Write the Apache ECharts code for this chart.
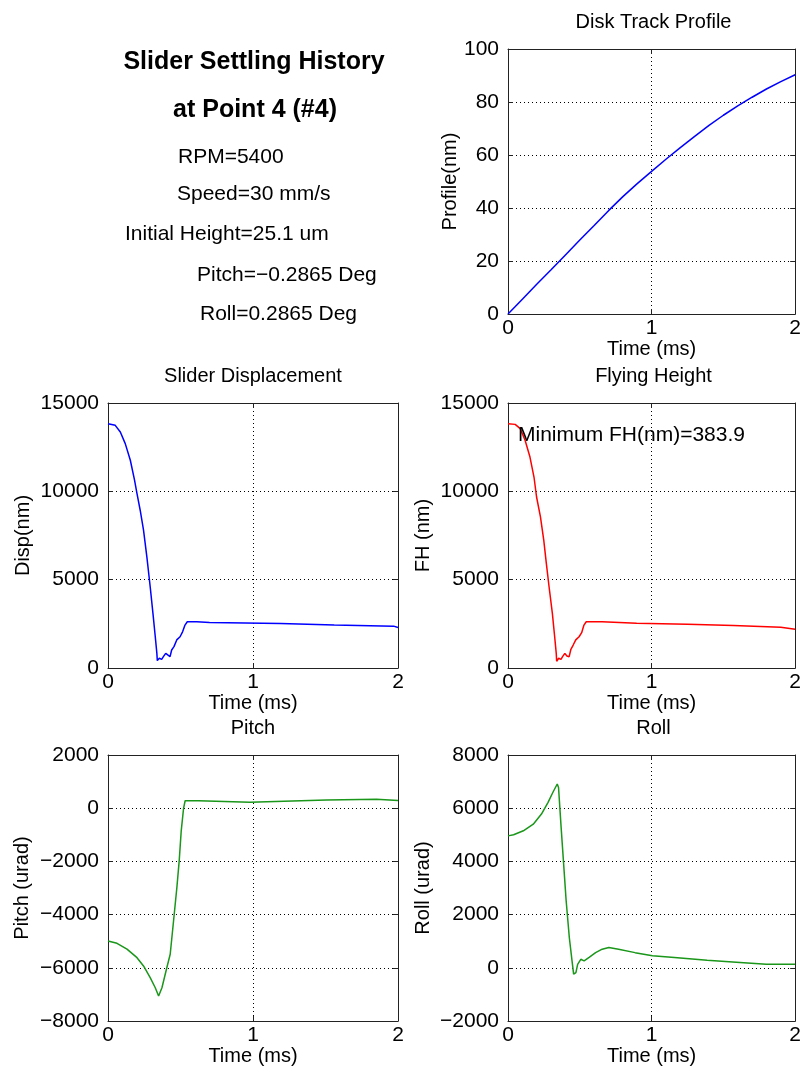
<!DOCTYPE html>
<html>
<head>
<meta charset="utf-8">
<title>Slider Settling History</title>
<script src="https://cdn.jsdelivr.net/npm/echarts@6/dist/echarts.min.js"></script>
<style>
  html, body { margin: 0; padding: 0; background: #fff; }
  #chart { width: 804px; height: 1070px; }
</style>
</head>
<body>
<div id="chart"></div>
<script>
// ---- data (time in ms) ----
const profileTime = [0, 0.1, 0.2, 0.3, 0.4, 0.5, 0.6, 0.7, 0.8, 0.9, 1.0, 1.1, 1.2, 1.3, 1.4, 1.5, 1.6, 1.7, 1.8, 1.9, 2.0];
const profileNm   = [0, 5.6, 11.2, 16.7, 22.3, 27.9, 33.4, 39.0, 44.3, 49.2, 53.8, 58.4, 62.8, 67.0, 71.2, 75.0, 78.5, 81.8, 84.9, 87.7, 90.3];

const dispTime = [0, 0.05, 0.085, 0.119, 0.154, 0.183, 0.2, 0.222, 0.245, 0.268, 0.291, 0.31, 0.326, 0.337, 0.34,
                  0.354, 0.37, 0.382, 0.398, 0.412, 0.428, 0.439, 0.455, 0.474, 0.497, 0.515, 0.531, 0.547, 0.612,
                  0.625, 0.70, 0.71, 1.19, 1.2, 1.56, 1.57, 1.97, 1.98, 2.0];
const dispNm   = [13830, 13735, 13360, 12700, 11760, 10630, 9870, 8930, 7800, 6290, 4600, 3090, 1770, 830, 420,
                  550, 490, 640, 830, 740, 640, 1020, 1210, 1590, 1770, 2060, 2430, 2620, 2620,
                  2570, 2570, 2525, 2525, 2430, 2430, 2370, 2370, 2290, 2290];

const fhTime = [0, 0.05, 0.085, 0.119, 0.153, 0.181, 0.199, 0.226, 0.249, 0.267, 0.286, 0.309, 0.325, 0.336, 0.339,
                0.353, 0.369, 0.380, 0.396, 0.410, 0.426, 0.438, 0.454, 0.472, 0.495, 0.513, 0.529, 0.545, 0.575,
                0.655, 0.66, 0.896, 0.9, 1.25, 1.26, 1.57, 1.58, 1.9, 1.91, 2.0];
const fhNm   = [13830, 13790, 13550, 12890, 11940, 10810, 9680, 8550, 7240, 5920, 4600, 3090, 1770, 830, 383.9,
                550, 490, 640, 830, 680, 640, 1060, 1300, 1590, 1770, 2000, 2430, 2620, 2620,
                2620, 2540, 2540, 2470, 2470, 2400, 2400, 2300, 2300, 2190, 2190];

const pitchTime = [0, 0.062, 0.131, 0.2, 0.245, 0.291, 0.326, 0.349, 0.372, 0.406, 0.429, 0.452, 0.475, 0.491,
                   0.505, 0.521, 0.532, 0.624, 0.635, 0.979, 0.99, 1.507, 1.518, 1.851, 1.862, 2.0];
const pitchUrad = [-4990, -5080, -5300, -5620, -5930, -6370, -6750, -7060, -6750, -5990, -5490, -4240, -2980, -1980,
                   -850, -10, 280, 280, 220, 220, 280, 310, 340, 340, 290, 290];

const rollTime = [0, 0.039, 0.107, 0.176, 0.233, 0.279, 0.313, 0.343, 0.352, 0.37, 0.386, 0.405, 0.427, 0.446,
                  0.457, 0.473, 0.485, 0.507, 0.53, 0.565, 0.61, 0.656, 0.702, 0.77, 0.885, 1.006, 1.159, 1.387,
                  1.616, 1.799, 2.0];
const rollUrad = [4960, 5000, 5150, 5400, 5780, 6220, 6600, 6910, 6780, 5280, 4020, 2520, 1140, 260,
                  -240, -180, 130, 320, 260, 390, 570, 700, 760, 700, 570, 450, 390, 280,
                  200, 130, 130];

// ---- axis ranges [min, max, interval] ----
const timeRange    = [0, 2, 1];
const profileRange = [0, 100, 20];
const dispRange    = [0, 15000, 5000];
const pitchRange   = [-8000, 2000, 2000];
const rollRange    = [-2000, 8000, 2000];

// ---- header text ----
const headerTitle = ['Slider Settling History', 'at Point 4 (#4)'];
const headerInfo = ['RPM=5400', 'Speed=30 mm/s', 'Initial Height=25.1 um', 'Pitch=\u22120.2865 Deg', 'Roll=0.2865 Deg'];

const FONT = '"Liberation Sans", Arial, Helvetica, sans-serif';
const FS = 20;      // titles and axis names
const FS_TICK = 21; // tick labels and header lines

const pairs = (xs, ys) => xs.map((x, i) => [x, ys[i]]);
const fmtNum = v => String(v).replace('-', '\u2212');

// panel layouts in pixels
const panels = [
  { left: 508, top: 49,  width: 291, height: 265, title: 'Disk Track Profile',  yName: 'Profile(nm)',  nameGap: 48, yr: profileRange, data: pairs(profileTime, profileNm), color: '#0000ff' },
  { left: 108, top: 403, width: 290, height: 265, title: 'Slider Displacement', yName: 'Disp(nm)',     nameGap: 75, yr: dispRange,    data: pairs(dispTime, dispNm),       color: '#0000ff' },
  { left: 508, top: 403, width: 291, height: 265, title: 'Flying Height',       yName: 'FH (nm)',      nameGap: 75, yr: dispRange,    data: pairs(fhTime, fhNm),           color: '#ff0000' },
  { left: 108, top: 755, width: 290, height: 266, title: 'Pitch',               yName: 'Pitch (urad)', nameGap: 76, yr: pitchRange,   data: pairs(pitchTime, pitchUrad),   color: '#1a961a' },
  { left: 508, top: 755, width: 291, height: 266, title: 'Roll',                yName: 'Roll (urad)',  nameGap: 75, yr: rollRange,    data: pairs(rollTime, rollUrad),     color: '#1a961a' }
];

const grid = [], xAxis = [], yAxis = [], series = [], title = [];
const dotted = { color: '#000', width: 1, type: [1, 3] };
const frameLine = { show: true, onZero: false, lineStyle: { color: '#222', width: 1 } };
const innerTick = { show: true, inside: true, length: 5, lineStyle: { color: '#222' } };

panels.forEach((p, i) => {
  grid.push({ left: p.left, top: p.top, width: p.width, height: p.height, show: false });
  title.push({ text: p.title, left: p.left + p.width / 2, top: p.top - 37, textAlign: 'center', padding: 0,
               textStyle: { fontFamily: FONT, fontSize: FS, fontWeight: 'normal', color: '#000' } });
  const common = { gridIndex: i, type: 'value' };
  // bottom and top x axes (top one only closes the frame)
  xAxis.push(Object.assign({}, common, {
    position: 'bottom', min: timeRange[0], max: timeRange[1], interval: timeRange[2],
    name: 'Time (ms)', nameLocation: 'middle', nameGap: 22,
    nameTextStyle: { fontFamily: FONT, fontSize: FS, color: '#000' },
    axisLine: frameLine, axisTick: innerTick,
    axisLabel: { fontFamily: FONT, fontSize: FS_TICK, color: '#000', margin: 4, showMinLabel: true, showMaxLabel: true },
    splitLine: { show: true, lineStyle: dotted }
  }));
  xAxis.push(Object.assign({}, common, {
    position: 'top', min: timeRange[0], max: timeRange[1], interval: timeRange[2],
    axisLine: frameLine, axisTick: innerTick,
    axisLabel: { show: false }, splitLine: { show: false }
  }));
  // left and right y axes (right one only closes the frame)
  yAxis.push(Object.assign({}, common, {
    position: 'left', min: p.yr[0], max: p.yr[1], interval: p.yr[2],
    name: p.yName, nameLocation: 'middle', nameGap: p.nameGap,
    nameTextStyle: { fontFamily: FONT, fontSize: FS, color: '#000' },
    axisLine: frameLine, axisTick: innerTick,
    axisLabel: { fontFamily: FONT, fontSize: FS_TICK, color: '#000', margin: 9, showMinLabel: true, showMaxLabel: true,
                 formatter: fmtNum },
    splitLine: { show: true, lineStyle: dotted }
  }));
  yAxis.push(Object.assign({}, common, {
    position: 'right', min: p.yr[0], max: p.yr[1], interval: p.yr[2],
    axisLine: frameLine, axisTick: innerTick,
    axisLabel: { show: false }, splitLine: { show: false }
  }));
  series.push({
    type: 'line', xAxisIndex: 2 * i, yAxisIndex: 2 * i, data: p.data,
    showSymbol: false, symbol: 'none', smooth: false, clip: true,
    lineStyle: { color: p.color, width: 1.5 }, z: 3
  });
});

// minimum flying height annotation, taken from the series itself
const minFH = Math.min.apply(null, fhNm);

const graphic = [];
graphic.push({ type: 'text', x: 254, y: 62, style: { text: headerTitle[0], font: 'bold 25px ' + FONT, fill: '#000', align: 'center', verticalAlign: 'middle' } });
graphic.push({ type: 'text', x: 255, y: 110, style: { text: headerTitle[1], font: 'bold 25px ' + FONT, fill: '#000', align: 'center', verticalAlign: 'middle' } });
const infoPos = [[178, 157], [177, 194], [125, 234], [197, 275], [200, 314]];
headerInfo.forEach((t, k) => {
  graphic.push({ type: 'text', x: infoPos[k][0], y: infoPos[k][1],
                 style: { text: t, font: FS_TICK + 'px ' + FONT, fill: '#000', align: 'left', verticalAlign: 'middle' } });
});
graphic.push({ type: 'text', x: 518, y: 435, z: 10,
               style: { text: 'Minimum FH(nm)=' + minFH.toFixed(1), font: FS_TICK + 'px ' + FONT, fill: '#000',
                        align: 'left', verticalAlign: 'middle' } });

const chart = echarts.init(document.getElementById('chart'), null, { renderer: 'canvas' });
chart.setOption({
  backgroundColor: '#fff',
  animation: false,
  title, grid, xAxis, yAxis, series, graphic
});
</script>
</body>
</html>
